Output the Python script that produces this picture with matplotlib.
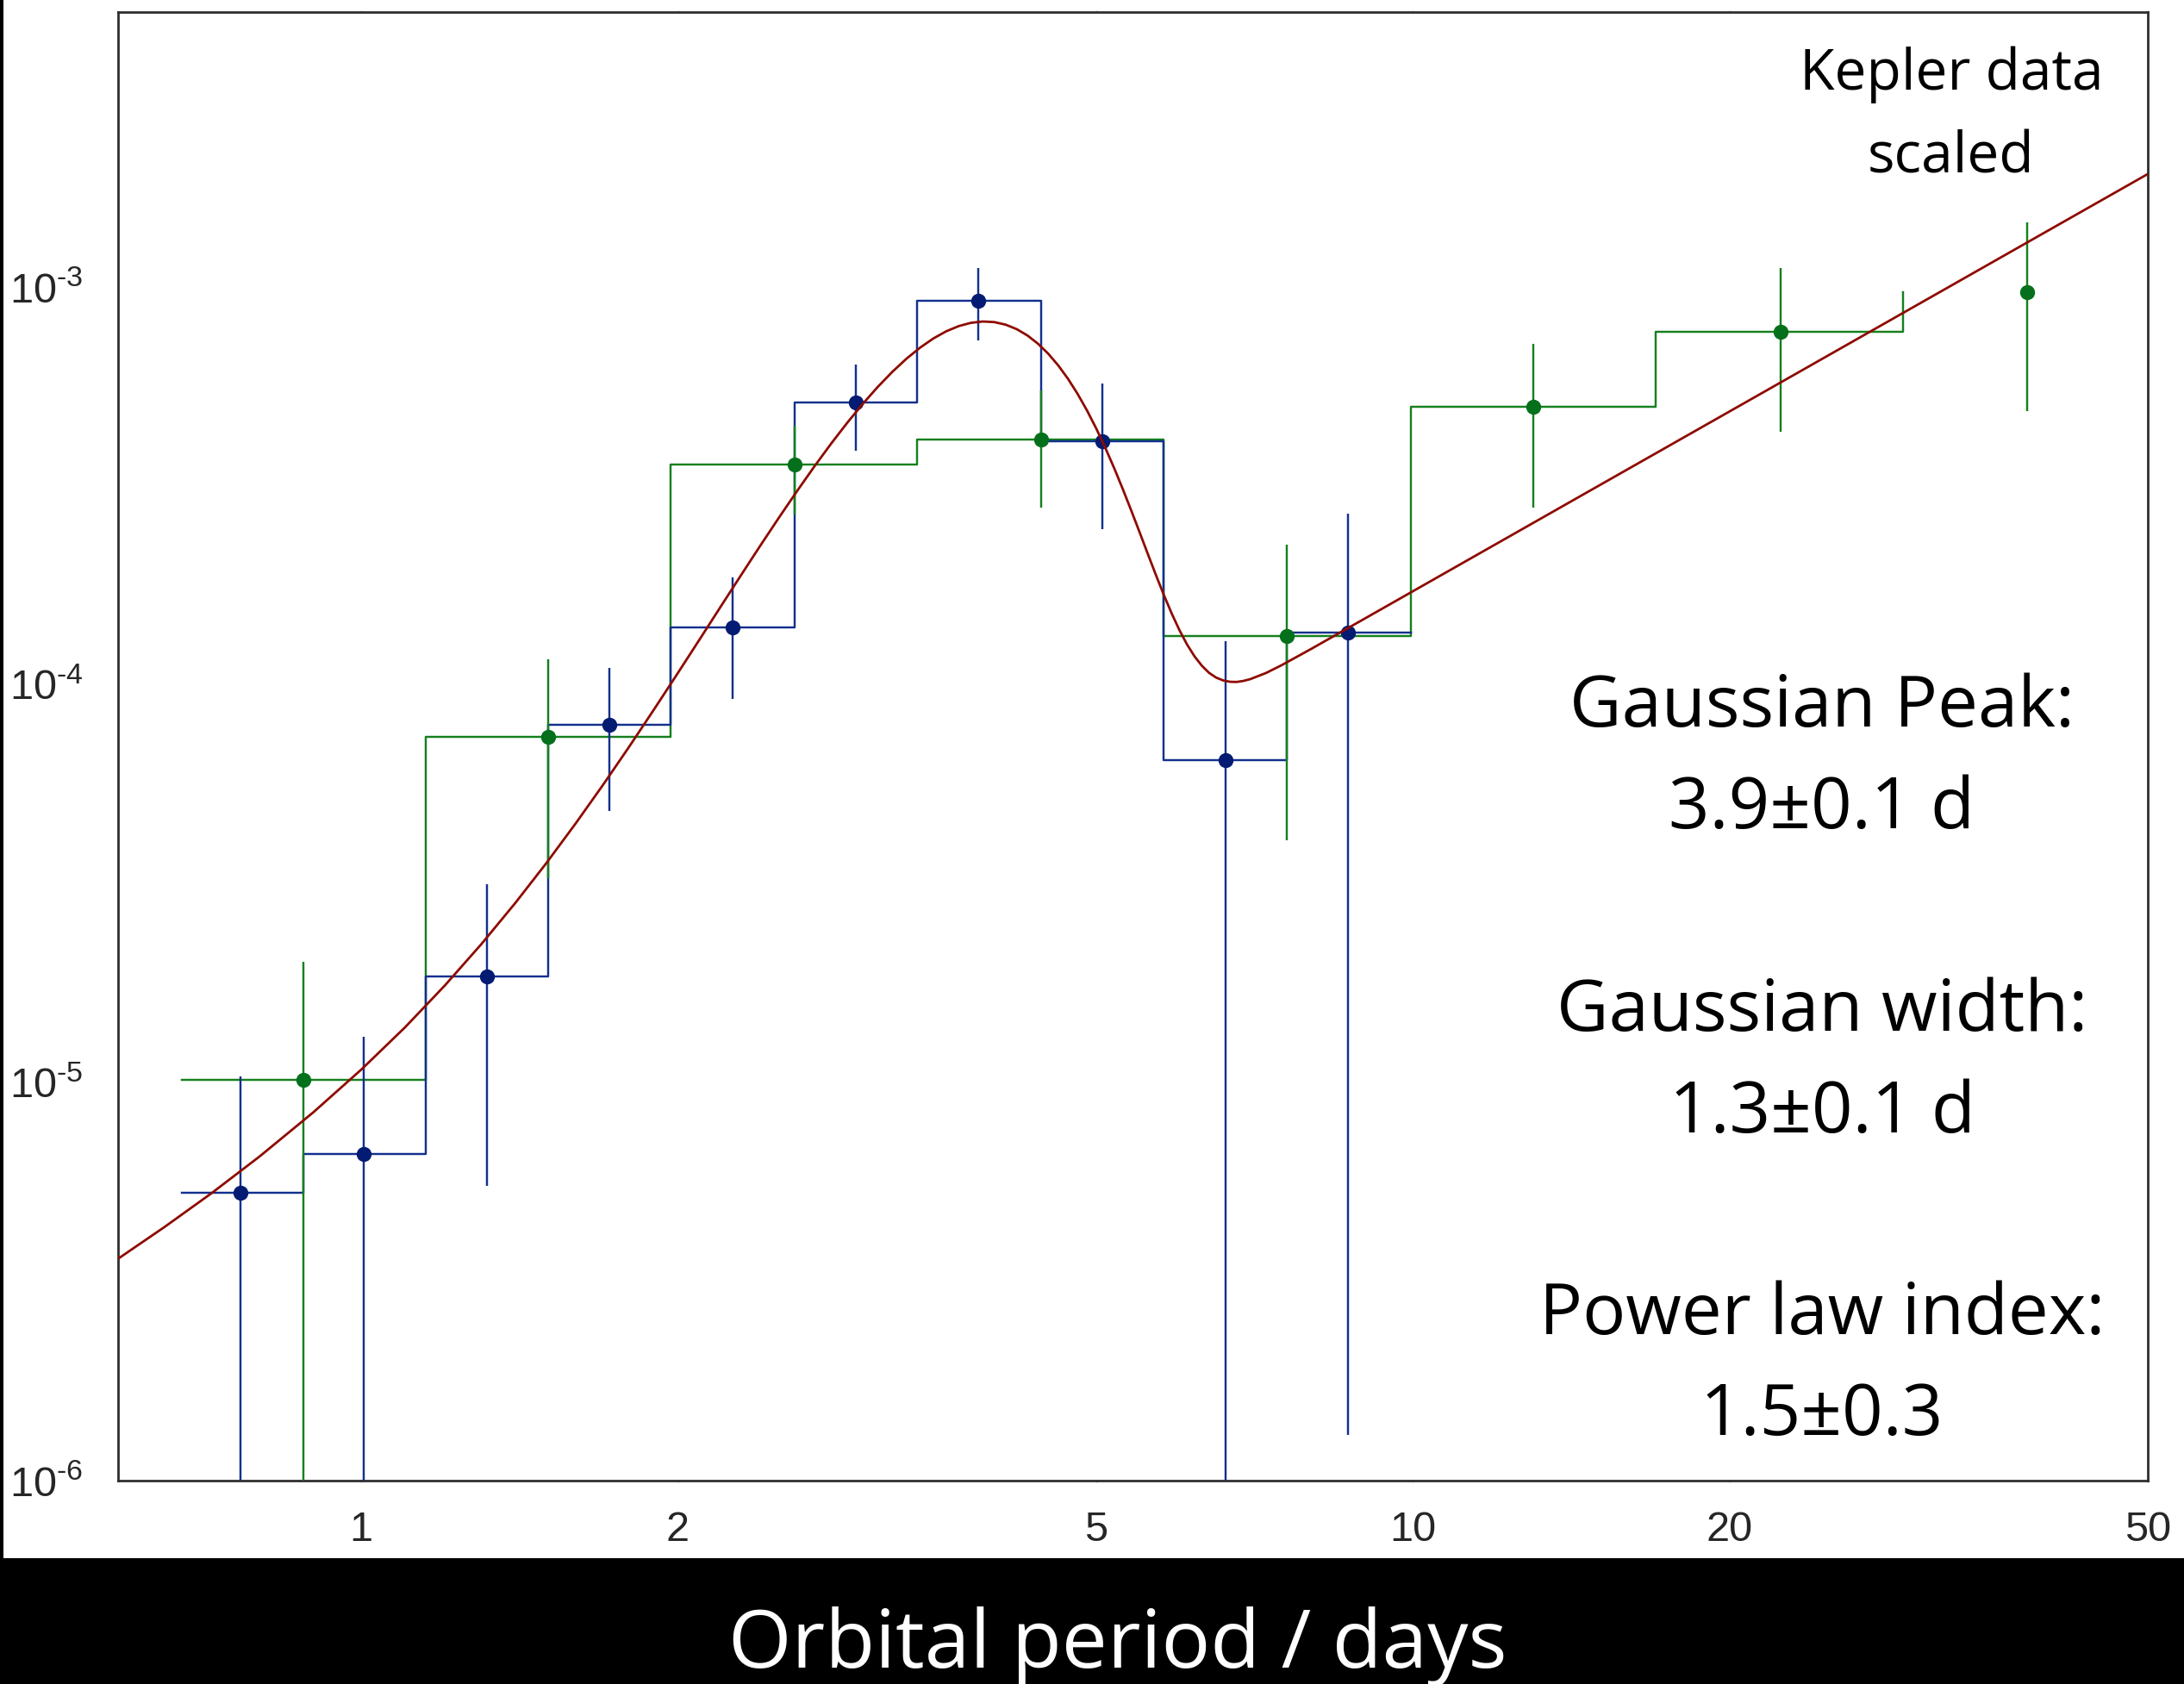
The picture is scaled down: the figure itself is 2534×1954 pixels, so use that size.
"""Kepler planet occurrence vs orbital period, log-log, with the
Gaussian + power-law fit drawn over two binnings of the data."""

import matplotlib
matplotlib.use("Agg")
import matplotlib.pyplot as plt
from matplotlib.patches import Rectangle
from matplotlib.ticker import FixedLocator, FixedFormatter, NullLocator

W, H = 2534, 1954

# fine binning (blue): bin edges, points, errors
blue_edges = [0.675, 0.881, 1.151, 1.505, 1.967, 2.582, 3.378, 4.43, 5.795, 7.59, 9.95]
blue_period = [0.768, 1.006, 1.316, 1.72, 2.255, 2.952, 3.862, 5.068, 6.63, 8.68]
blue_rate = [5.28e-6, 6.62e-6, 1.85e-5, 7.91e-5, 1.39e-4, 5.12e-4, 9.23e-4, 4.09e-4, 6.46e-5, 1.35e-4]
blue_err = [5.1e-6, 6.44e-6, 1.3e-5, 3.1e-5, 4.7e-5, 1.24e-4, 1.9e-4, 1.63e-4, 6.4e-5, 1.337e-4]

# coarse binning (green): left edges, points, errors
green_edges = [0.675, 1.151, 1.967, 3.378, 5.795, 9.95, 17.03, 29.24]
green_period = [0.881, 1.505, 2.582, 4.43, 7.59, 13.03, 22.36, 38.4]
green_rate = [1.016e-5, 7.41e-5, 3.58e-4, 4.14e-4, 1.327e-4, 4.99e-4, 7.72e-4, 9.68e-4]
green_err = [1.0e-5, 4.15e-5, 9.0e-5, 1.35e-4, 9.2e-5, 2.2e-4, 3.4e-4, 4.8e-4]

# fitted model curve (red)
fit_period = [0.587, 0.65, 0.72, 0.8, 0.9, 1.0, 1.1, 1.2, 1.3, 1.4, 1.5, 1.6, 1.7, 1.8,
              1.9, 2.0, 2.1, 2.2, 2.3, 2.4, 2.5, 2.6, 2.7, 2.8, 2.9, 3.0, 3.1, 3.2, 3.3,
              3.4, 3.5, 3.6, 3.7, 3.8, 3.9, 4.0, 4.1, 4.2, 4.3, 4.4, 4.5, 4.6, 4.7, 4.8,
              4.9, 5.0, 5.1, 5.2, 5.3, 5.4, 5.5, 5.6, 5.7, 5.8, 5.9, 6.0, 6.1, 6.2, 6.3,
              6.4, 6.5, 6.6, 6.7, 6.8, 6.9, 7.0, 7.25, 7.5, 8.0, 9.0, 10, 15, 20, 30, 40, 50]
fit_rate = [3.61e-6, 4.34e-6, 5.27e-6, 6.52e-6, 8.42e-6, 1.079e-5, 1.376e-5, 1.752e-5,
            2.226e-5, 2.822e-5, 3.566e-5, 4.492e-5, 5.631e-5, 7.02e-5, 8.70e-5, 1.070e-4,
            1.306e-4, 1.581e-4, 1.896e-4, 2.252e-4, 2.648e-4, 3.082e-4, 3.551e-4, 4.047e-4,
            4.562e-4, 5.087e-4, 5.610e-4, 6.118e-4, 6.597e-4, 7.033e-4, 7.415e-4, 7.729e-4,
            7.965e-4, 8.116e-4, 8.178e-4, 8.149e-4, 8.029e-4, 7.825e-4, 7.543e-4, 7.194e-4,
            6.790e-4, 6.343e-4, 5.867e-4, 5.376e-4, 4.883e-4, 4.400e-4, 3.935e-4, 3.499e-4,
            3.096e-4, 2.731e-4, 2.407e-4, 2.123e-4, 1.880e-4, 1.675e-4, 1.506e-4, 1.369e-4,
            1.261e-4, 1.178e-4, 1.116e-4, 1.071e-4, 1.042e-4, 1.025e-4, 1.017e-4, 1.016e-4,
            1.022e-4, 1.032e-4, 1.070e-4, 1.119e-4, 1.229e-4, 1.466e-4, 1.717e-4, 3.155e-4,
            4.857e-4, 8.923e-4, 1.374e-3, 1.920e-3]

x_ticks = [1, 2, 5, 10, 20, 50]
x_tick_labels = ["1", "2", "5", "10", "20", "50"]
y_ticks = [1e-6, 1e-5, 1e-4, 1e-3]
y_tick_labels = [r"$\mathdefault{10^{\text{-6}}}$", r"$\mathdefault{10^{\text{-5}}}$",
                 r"$\mathdefault{10^{\text{-4}}}$", r"$\mathdefault{10^{\text{-3}}}$"]

fit_lines = ["Gaussian Peak:", "3.9\u00b10.1 d", "Gaussian width:", "1.3\u00b10.1 d",
             "Power law index:", "1.5\u00b10.3"]

BLUE_LINE, BLUE_DOT = "#12308e", "#031b72"
GREEN_LINE, GREEN_DOT = "#15801d", "#04701b"
RED = "#8e0b00"
TEXT_FONT = ["Open Sans", "DejaVu Sans"]

plt.rcParams["font.family"] = ["Liberation Sans", "DejaVu Sans"]
plt.rcParams["mathtext.fontset"] = "custom"
plt.rcParams["mathtext.rm"] = "Liberation Sans"
plt.rcParams["mathtext.default"] = "regular"

fig = plt.figure(figsize=(W / 100, H / 100), dpi=100)
fig.patch.set_facecolor("white")

# black band behind the x label and a thin black strip on the left edge
fig.patches.append(Rectangle((0, 0), 1, (H - 1808) / H, transform=fig.transFigure,
                             facecolor="black", edgecolor="none", zorder=0))
fig.patches.append(Rectangle((0, 0), 4 / W, 1, transform=fig.transFigure,
                             facecolor="black", edgecolor="none", zorder=0))

ax = fig.add_axes([137 / W, 1 - 1718 / H, (2492 - 137) / W, (1718 - 14) / H])
ax.set_xscale("log")
ax.set_yscale("log")
ax.set_xlim(0.587, 50)
ax.set_ylim(1e-6, 4.9e-3)

ax.step(green_edges, green_rate, where="post", color=GREEN_LINE, lw=1.75, zorder=2)
ax.step(blue_edges, blue_rate + [blue_rate[-1]], where="post", color=BLUE_LINE, lw=1.75, zorder=3)
ax.errorbar(green_period, green_rate, yerr=green_err, fmt="o", color=GREEN_LINE,
            mfc=GREEN_DOT, mec=GREEN_DOT, ms=11.5, elinewidth=1.75, capsize=0, zorder=4)
ax.errorbar(blue_period, blue_rate, yerr=blue_err, fmt="o", color=BLUE_LINE,
            mfc=BLUE_DOT, mec=BLUE_DOT, ms=11.5, elinewidth=1.75, capsize=0, zorder=5)
ax.plot(fit_period, fit_rate, color=RED, lw=2.0, zorder=6)

ax.xaxis.set_major_locator(FixedLocator(x_ticks))
ax.xaxis.set_major_formatter(FixedFormatter(x_tick_labels))
ax.xaxis.set_minor_locator(NullLocator())
ax.yaxis.set_major_locator(FixedLocator(y_ticks))
ax.yaxis.set_major_formatter(FixedFormatter(y_tick_labels))
ax.yaxis.set_minor_locator(NullLocator())
ax.tick_params(axis="x", length=1.5, width=0.8, color="0.7", top=True,
               labelsize=35, labelcolor="#262626", pad=24)
ax.tick_params(axis="y", length=0, labelsize=35, labelcolor="#262626", pad=29)
for spine in ax.spines.values():
    spine.set_color("#2e2e2e")
    spine.set_linewidth(2.0)

# annotations
fig.text(2264 / W, 1 - 104 / H, "Kepler data", ha="center", va="baseline",
         fontsize=47.5, family=TEXT_FONT, color="black")
fig.text(2264 / W, 1 - 200 / H, "scaled", ha="center", va="baseline",
         fontsize=47.5, family=TEXT_FONT, color="black")
fit_baselines = [843, 961, 1196, 1314, 1548, 1665]
for txt, yb in zip(fit_lines, fit_baselines):
    fig.text(2114 / W, 1 - yb / H, txt, ha="center", va="baseline",
             fontsize=60, family=TEXT_FONT, color="black")

fig.text(1297 / W, 1 - 1935 / H, "Orbital period / days", ha="center", va="baseline",
         fontsize=68, family=TEXT_FONT, color="white")

fig.savefig("out.png", dpi=100)
